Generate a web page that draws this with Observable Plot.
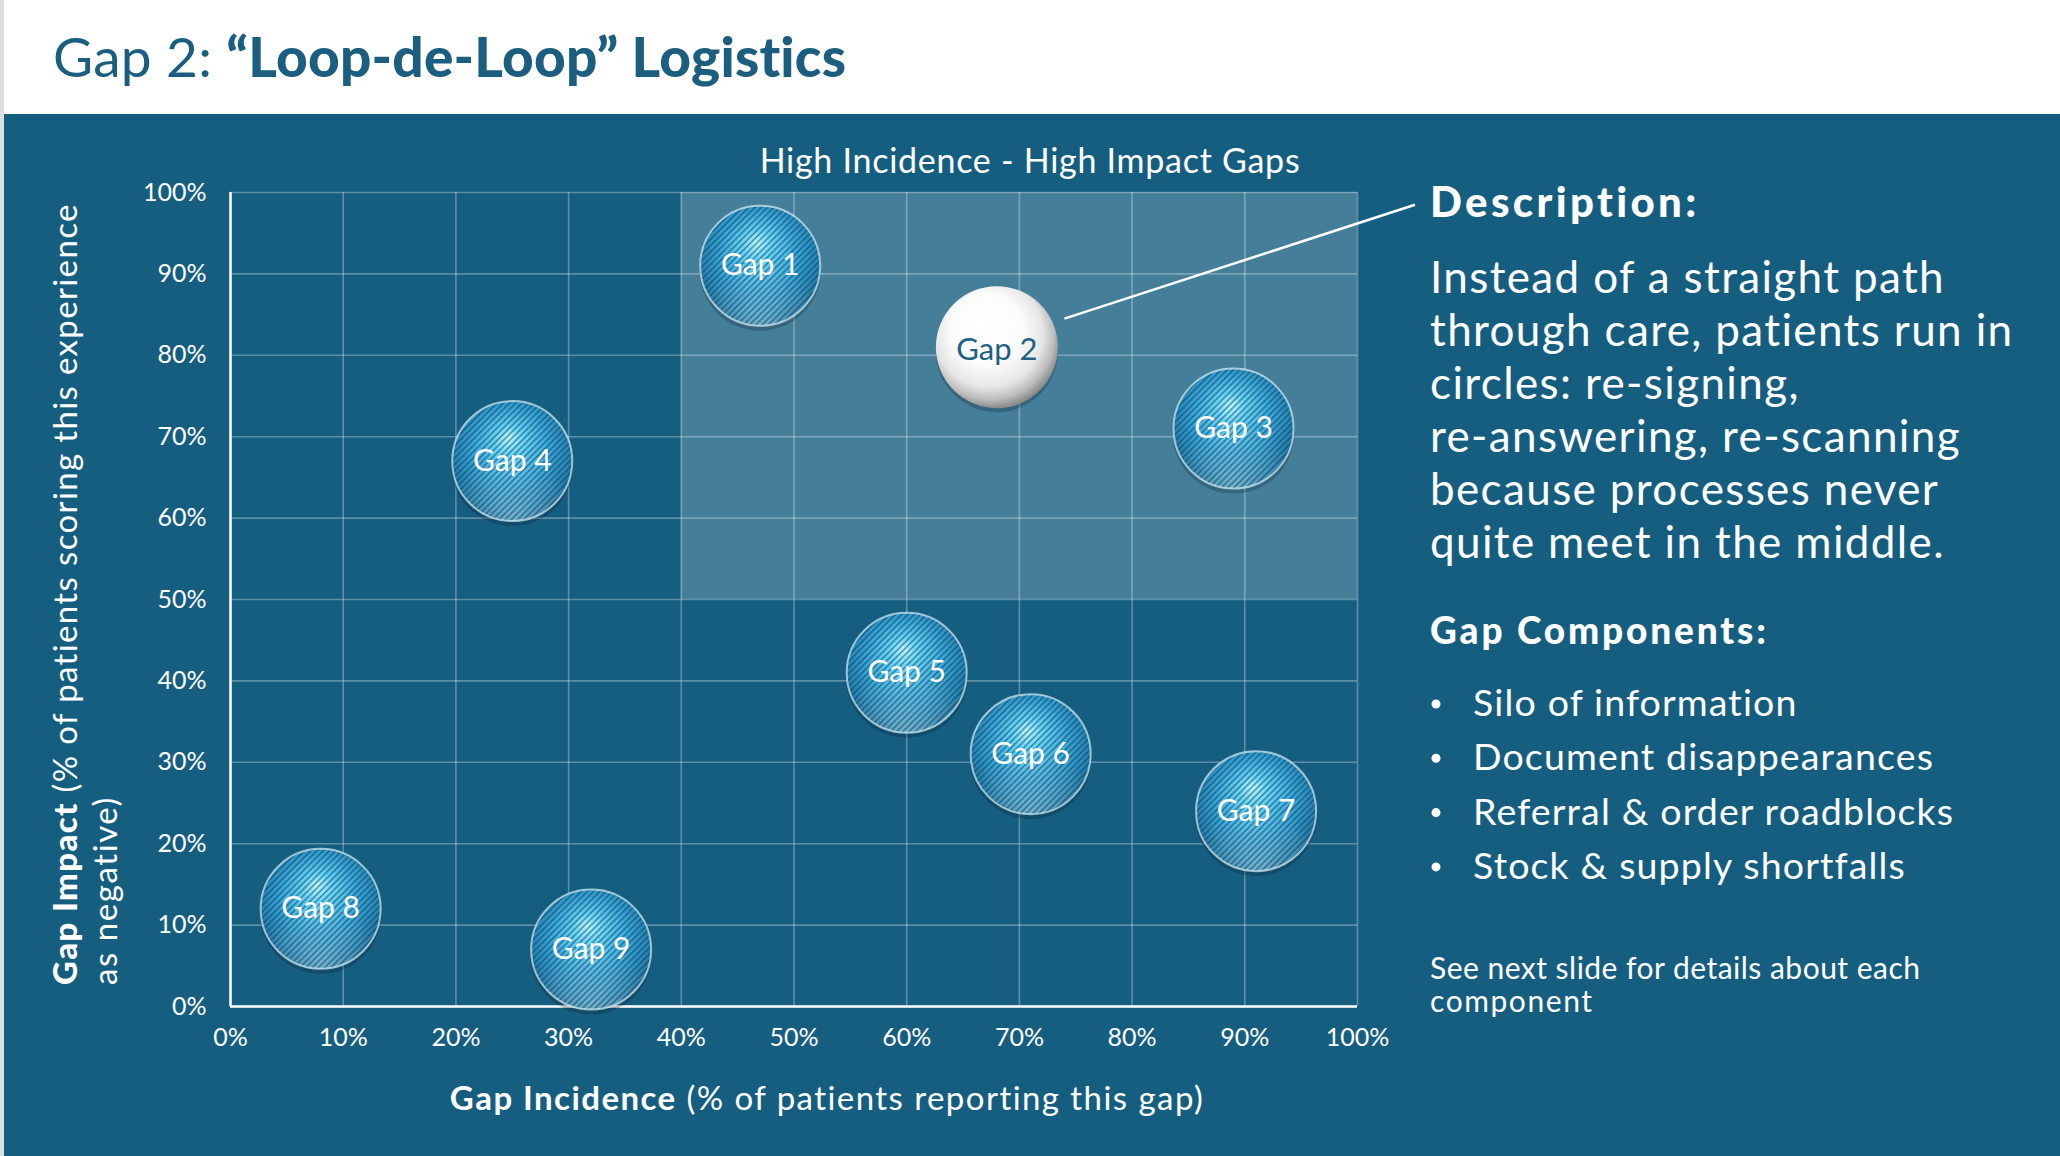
<!DOCTYPE html>
<html><head><meta charset="utf-8">
<script src="https://cdn.jsdelivr.net/npm/d3@7"></script>
<script src="https://cdn.jsdelivr.net/npm/@observablehq/plot@0.6"></script>
<style>
html,body{margin:0;padding:0;}
body{width:2060px;height:1156px;position:relative;overflow:hidden;background:#fff;font-family:Lato,"Open Sans",sans-serif;}
#edge{position:absolute;left:0;top:0;width:4px;height:1156px;background:#dedede;}
#panel{position:absolute;left:4px;top:114px;width:2056px;height:1042px;background:#165e80;}
#chart{position:absolute;left:0;top:114px;}
#overlay{position:absolute;left:0;top:0;pointer-events:none;}
</style></head>
<body>
<div id="edge"></div><div id="panel"></div><div id="chart"></div>
<script>
// ---- data ----
const gapNames = ["Gap 1", "Gap 2", "Gap 3", "Gap 4", "Gap 5", "Gap 6", "Gap 7", "Gap 8", "Gap 9"];
const incidence = [47, 68, 89, 25, 60, 71, 91, 8, 32];   // % of patients reporting this gap
const impact = [91, 81, 71, 67, 41, 31, 24, 12, 7];      // % scoring as negative
const featuredGap = "Gap 2";
const xTicks = [0, 10, 20, 30, 40, 50, 60, 70, 80, 90, 100];
const yTicks = [0, 10, 20, 30, 40, 50, 60, 70, 80, 90, 100];
const quadrant = [{x1: 40, x2: 100, y1: 50, y2: 100}];
const calloutLine = [{x1: 74, y1: 84.5, x2: 105.1, y2: 98.5}];

const titleRegular = "Gap 2: ";
const titleBold = "\u201CLoop-de-Loop\u201D Logistics";
const quadrantTitle = "High Incidence - High Impact Gaps";
const xLabelBold = "Gap Incidence";
const xLabelRest = " (% of patients reporting this gap)";
const yLabelBold = "Gap Impact";
const yLabelRest = " (% of patients scoring this experience";
const yLabelLine2 = "as negative)";
const descriptionHeading = "Description:";
const descriptionLines = ["Instead of a straight path", "through care, patients run in", "circles: re-signing,", "re-answering, re-scanning", "because processes never", "quite meet in the middle."];
const componentsHeading = "Gap Components:";
const components = ["Silo of information", "Document disappearances", "Referral & order roadblocks", "Stock & supply shortfalls"];
const footnoteLines = ["See next slide for details about each", "component"];

// ---- chart ----
const data = gapNames.map((name, i) => ({name, x: incidence[i], y: impact[i], featured: name === featuredGap}));
const blueGaps = data.filter(d => !d.featured);
const featured = data.filter(d => d.featured);
const pct = d => d + "%";
const FONT = "Lato, 'Open Sans', sans-serif";

const chart = Plot.plot({
  width: 1420, height: 1042,
  marginLeft: 230, marginRight: 63, marginTop: 78, marginBottom: 150,
  x: {domain: [0, 100]},
  y: {domain: [0, 100]},
  style: {background: "transparent", color: "white", fontFamily: FONT, overflow: "visible"},
  marks: [
    Plot.rect(quadrant, {x1: "x1", x2: "x2", y1: "y1", y2: "y2", fill: "white", fillOpacity: 0.2}),
    Plot.gridX(xTicks, {stroke: "white", strokeOpacity: 0.3, strokeWidth: 1.6}),
    Plot.gridY(yTicks, {stroke: "white", strokeOpacity: 0.3, strokeWidth: 1.6}),
    Plot.ruleX([0], {stroke: "white", strokeWidth: 2.5}),
    Plot.ruleY([0], {stroke: "white", strokeWidth: 2.5}),
    Plot.axisX(xTicks, {tickFormat: pct, tickSize: 0, tickPadding: 22, fontSize: 25, label: null}),
    Plot.axisY(yTicks, {tickFormat: pct, tickSize: 0, tickPadding: 24, fontSize: 25, label: null}),
    Plot.link(calloutLine, {x1: "x1", y1: "y1", x2: "x2", y2: "y2", stroke: "white", strokeWidth: 2.5}),
    Plot.dot(data, {x: "x", y: "y", r: 61, fill: "#021c2c", fillOpacity: 0.25, dy: 4, ariaLabel: "shadow"}),
    Plot.dot(blueGaps, {x: "x", y: "y", r: 60, fill: "url(#blueBall)"}),
    Plot.dot(blueGaps, {x: "x", y: "y", r: 60, fill: "url(#glare)"}),
    Plot.dot(blueGaps, {x: "x", y: "y", r: 60, fill: "url(#hatch)"}),
    Plot.dot(featured, {x: "x", y: "y", r: 61, fill: "url(#whiteBall)"}),
    Plot.dot(blueGaps, {x: "x", y: "y", r: 60, fill: "none", stroke: "#d8eef7", strokeOpacity: 0.7, strokeWidth: 2}),
    Plot.text(blueGaps, {x: "x", y: "y", text: "name", fill: "white", fontSize: 30, ariaLabel: "gap-label"}),
    Plot.text(featured, {x: "x", y: "y", dy: 3, text: "name", fill: "#1c6186", fontSize: 31, ariaLabel: "gap-label"})
  ]
});
document.getElementById("chart").appendChild(chart);

// gradients / patterns for the spheres
const svg = d3.select(chart);
const defs = svg.insert("defs", ":first-child");
function radial(id, attrs, stops) {
  const g = defs.append("radialGradient").attr("id", id);
  Object.entries(attrs).forEach(([k, v]) => g.attr(k, v));
  stops.forEach(([o, c, a]) => g.append("stop").attr("offset", o).attr("stop-color", c).attr("stop-opacity", a ?? 1));
}
radial("blueBall", {cx: "50%", cy: "45%", r: "55%", fx: "47%", fy: "30%"},
  [[0, "#b6f8ff"], [0.22, "#66d6f8"], [0.58, "#37a7d9"], [0.86, "#2686b6"], [1, "#206e96"]]);
radial("glare", {cx: "50%", cy: "100%", r: "55%"},
  [[0, "#c4f4ff", 0.5], [1, "#c4f4ff", 0]]);
radial("whiteBall", {cx: "45%", cy: "42%", r: "58%", fx: "38%", fy: "28%"},
  [[0, "#ffffff"], [0.5, "#fcfcfc"], [0.76, "#e6e6e6"], [0.9, "#bdbdbd"], [1, "#8c8c8c"]]);
const pat = defs.append("pattern").attr("id", "hatch").attr("patternUnits", "userSpaceOnUse")
  .attr("width", 4.4).attr("height", 4.4).attr("patternTransform", "rotate(45)");
pat.append("line").attr("x1", 0.8).attr("y1", 0).attr("x2", 0.8).attr("y2", 4.4)
  .attr("stroke", "#0a3450").attr("stroke-opacity", 0.58).attr("stroke-width", 1.4);
const blur = defs.append("filter").attr("id", "soft").attr("x", "-30%").attr("y", "-30%").attr("width", "160%").attr("height", "160%");
blur.append("feGaussianBlur").attr("stdDeviation", 3);
svg.selectAll("g[aria-label=shadow]").attr("filter", "url(#soft)");
svg.selectAll("g[aria-label=gap-label]").attr("letter-spacing", 0.4);

// ---- overlay texts ----
const ov = d3.select("body").append("svg").attr("id", "overlay").attr("width", 2060).attr("height", 1156)
  .style("font-family", FONT);
function line(parent, x, y, size, parts, opts = {}) {
  const t = parent.append("text").attr("x", x).attr("y", y).attr("font-size", size)
    .attr("fill", opts.fill || "white").attr("text-anchor", opts.anchor || "start");
  parts.forEach(([s, w]) => t.append("tspan").attr("font-weight", w || 400).text(s));
  return t;
}
// letter spacing so that a block of lines spans the total width measured on the original slide
function spacingFor(ts, totalWidth) {
  let len = 0, gaps = 0;
  ts.forEach(t => { len += t.node().getComputedTextLength(); gaps += Math.max(1, t.text().length - 1); });
  return Math.max(-1, (totalWidth - len) / gaps);
}
function fit(t, width) { t.attr("letter-spacing", spacingFor([t], width)); return t; }
function fitBlock(ts, totalWidth) { const ls = spacingFor(ts, totalWidth); ts.forEach(t => t.attr("letter-spacing", ls)); }

fit(line(ov, 53, 77, 55, [[titleRegular, 400], [titleBold, 900]], {fill: "#1b5e80"}), 794);
fit(line(ov, 1030, 173, 34, [[quadrantTitle]], {anchor: "middle"}), 540);
fit(line(ov, 827, 1110, 33, [[xLabelBold, 700], [xLabelRest, 400]], {anchor: "middle"}), 754);
const yl = ov.append("g").attr("transform", "translate(77,985) rotate(-90)");
fit(line(yl, 0, 0, 33, [[yLabelBold, 900], [yLabelRest, 400]]), 781);
fit(line(yl, 0, 40, 33, [[yLabelLine2]]), 188);

fit(line(ov, 1430, 217, 42, [[descriptionHeading, 900]]), 267);
fitBlock(descriptionLines.map((s, i) => line(ov, 1430, 293 + i * 53, 44, [[s]])), 3016);
fit(line(ov, 1430, 644, 37, [[componentsHeading, 900]]), 336);
fitBlock(components.map((s, i) => {
  ov.append("circle").attr("cx", 1436).attr("cy", 716 - 12 + i * 54.3).attr("r", 4.5).attr("fill", "white");
  return line(ov, 1473, 716 + i * 54.3, 37.5, [[s]]);
}), 1695);
fit(line(ov, 1430, 979, 30, [[footnoteLines[0]]]), 490);
line(ov, 1430, 1012, 30, [[footnoteLines[1]]]).attr("letter-spacing", ov.select("text:last-of-type").attr("letter-spacing"));
</script>
</body></html>
